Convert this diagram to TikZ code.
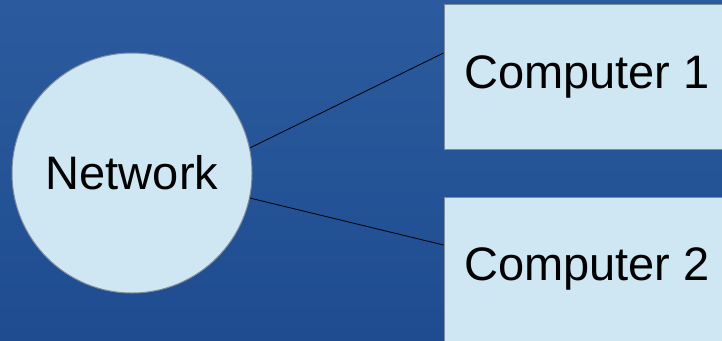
\documentclass[tikz,border=0pt]{standalone}
\usepackage{fontspec}
\setmainfont{Liberation Sans}
\usepackage{tikz}
\usetikzlibrary{positioning, calc}

\definecolor{bgtop}{HTML}{2B5B9E}
\definecolor{bgbot}{HTML}{1F4C90}
\definecolor{boxfill}{HTML}{CFE6F3}
\definecolor{boxline}{HTML}{7F8C99}

\begin{document}
\begin{tikzpicture}[x=1bp, y=1bp,
  every node/.style={draw=boxline, line width=1bp, fill=boxfill, text=black,
    font=\fontsize{47bp}{56bp}\selectfont},
  hub/.style={circle, minimum size=240bp, inner sep=0pt},
  pc/.style={rectangle, minimum width=286bp, minimum height=144bp, inner sep=0pt}]
  \useasboundingbox (0,0) rectangle (722,340);
  \clip (0,0) rectangle (722,340);
  \shade[top color=bgtop, bottom color=bgbot] (0,0) rectangle (722,340);
  \node[hub] (net) at (132,167) {Network};
  \node[pc] (pc1) at (587,263) {Computer 1};
  \node[pc] (pc2) at (587,71) {Computer 2};
  \draw[line width=0.8bp] (net.12) -- ([yshift=24bp]pc1.west);
  \draw[line width=0.8bp] (net.-12) -- ([yshift=24bp]pc2.west);
\end{tikzpicture}
\end{document}
